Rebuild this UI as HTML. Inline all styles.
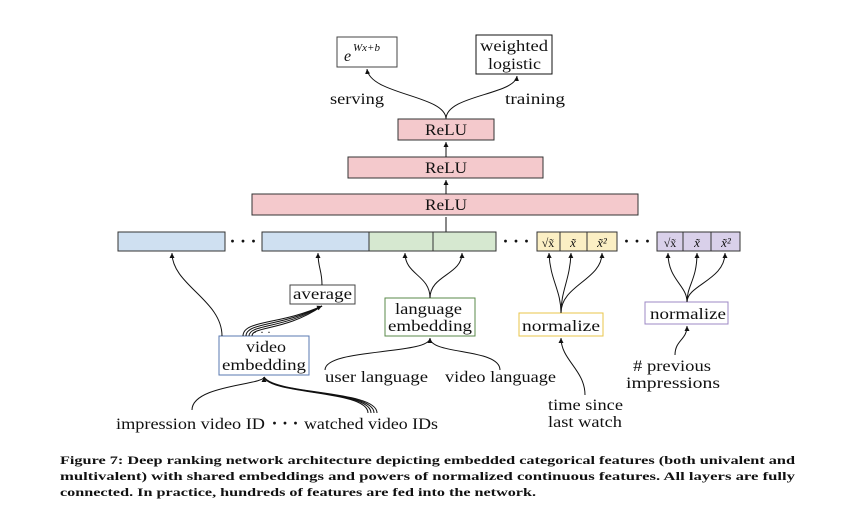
<!DOCTYPE html>
<html><head><meta charset="utf-8"><style>
body{margin:0;background:#fff}
svg text{font-family:"Liberation Serif",serif;fill:#111}
.c{font-size:15.5px}
</style></head><body>
<svg width="853" height="516" viewBox="0 0 853 516" xmlns="http://www.w3.org/2000/svg">
<defs><marker id="a" markerWidth="6" markerHeight="6" refX="5" refY="3" orient="auto"><path d="M0,0.5 L5,3 L0,5.5 z" fill="#111"/></marker></defs>
<g fill="none" stroke="#111" stroke-width="1">
<rect x="337" y="37" width="60" height="30" stroke="#444"/>
<rect x="476" y="35" width="76" height="39"/>
<path d="M446,119 C446,95 370,95 367,69" marker-end="url(#a)"/>
<path d="M446,119 C446,95 515,95 517,76" marker-end="url(#a)"/>
<rect x="398" y="119" width="96" height="21" fill="#f4c9cc" stroke="#333"/>
<rect x="348" y="157" width="195" height="21" fill="#f4c9cc" stroke="#333"/>
<rect x="252" y="194" width="386" height="21" fill="#f4c9cc" stroke="#333"/>
<path d="M446,157 L446,142" marker-end="url(#a)"/>
<path d="M446,194 L446,180" marker-end="url(#a)"/>
<path d="M446,232 L446,217"/>
<rect x="118" y="232" width="107" height="19" fill="#cfe0f1" stroke="#333"/>
<rect x="262" y="232" width="107" height="19" fill="#cfe0f1" stroke="#333"/>
<rect x="369" y="232" width="64" height="19" fill="#d6e8d0" stroke="#333"/>
<rect x="433" y="232" width="63" height="19" fill="#d6e8d0" stroke="#333"/>
<rect x="537" y="232" width="23" height="19" fill="#fbefc4" stroke="#333"/>
<rect x="560" y="232" width="27" height="19" fill="#fbefc4" stroke="#333"/>
<rect x="587" y="232" width="30" height="19" fill="#fbefc4" stroke="#333"/>
<rect x="657" y="232" width="26" height="19" fill="#d9d0ea" stroke="#333"/>
<rect x="683" y="232" width="28" height="19" fill="#d9d0ea" stroke="#333"/>
<rect x="711" y="232" width="29" height="19" fill="#d9d0ea" stroke="#333"/>
<rect x="290" y="285" width="65" height="19" stroke="#444"/>
<rect x="385" y="298" width="90" height="38" stroke="#5a8a4a"/>
<rect x="519" y="313" width="84" height="23" stroke="#e8c54a"/>
<rect x="645" y="302" width="83" height="22" stroke="#9c88c4"/>
<rect x="219" y="336" width="90" height="39" stroke="#5a78b0"/>
<path d="M222,336 C222,300 172,285 172,253" marker-end="url(#a)"/>
<path d="M322,285 C322,270 318,268 318,253" marker-end="url(#a)"/>
<path d="M243,336 C243,320 280,325 322,306" marker-end="url(#a)"/>
<path d="M246,336 C246,322 282,327 322,306"/>
<path d="M249,336 C249,324 284,329 322,306"/>
<path d="M252,336 C252,326 286,331 322,306"/>
<path d="M430,298 C430,275 405,275 405,253" marker-end="url(#a)"/>
<path d="M430,298 C430,275 462,275 462,253" marker-end="url(#a)"/>
<path d="M561,313 C561,290 550,280 549,253" marker-end="url(#a)"/>
<path d="M561,313 C561,290 570,280 571,253" marker-end="url(#a)"/>
<path d="M561,313 C561,285 602,280 602,253" marker-end="url(#a)"/>
<path d="M687,302 C687,285 668,280 668,253" marker-end="url(#a)"/>
<path d="M687,302 C687,285 697,280 697,253" marker-end="url(#a)"/>
<path d="M687,302 C687,285 725,280 725,253" marker-end="url(#a)"/>
<path d="M325,370 C325,348 430,355 430,338" marker-end="url(#a)"/>
<path d="M500,370 C500,348 430,355 430,338"/>
<path d="M585,395 C585,370 561,360 561,338" marker-end="url(#a)"/>
<path d="M675,355 C675,340 687,340 687,326" marker-end="url(#a)"/>
<path d="M192,410 C192,385 264,385 264,377" marker-end="url(#a)"/>
<path d="M368,413 C368,390 270,395 264,377"/>
<path d="M371,413 C371,390 272,395 264,377"/>
<path d="M374,413 C374,390 274,395 264,377"/>
<path d="M377,413 C377,390 276,395 264,377"/>
</g>
<g font-size="13" lengthAdjust="spacingAndGlyphs">
<text x="344" y="61" font-style="italic" font-size="16">e</text>
<text x="353" y="51" font-style="italic" font-size="11">Wx+b</text>
<text x="480" y="51" class="c" textLength="68" lengthAdjust="spacingAndGlyphs">weighted</text>
<text x="488" y="69" class="c" textLength="53" lengthAdjust="spacingAndGlyphs">logistic</text>
<text x="330" y="104" class="c" textLength="54" lengthAdjust="spacingAndGlyphs">serving</text>
<text x="505" y="104" class="c" textLength="60" lengthAdjust="spacingAndGlyphs">training</text>
<text x="425" y="135" class="c" textLength="42" lengthAdjust="spacingAndGlyphs">ReLU</text>
<text x="425" y="173" class="c" textLength="42" lengthAdjust="spacingAndGlyphs">ReLU</text>
<text x="425" y="210" class="c" textLength="42" lengthAdjust="spacingAndGlyphs">ReLU</text>
<text x="243" y="247" text-anchor="middle" font-size="18" font-weight="bold">· · ·</text>
<text x="516" y="247" text-anchor="middle" font-size="18" font-weight="bold">· · ·</text>
<text x="637" y="247" text-anchor="middle" font-size="18" font-weight="bold">· · ·</text>
<text x="548" y="247" text-anchor="middle" font-size="12">√x̃</text>
<text x="573" y="247" text-anchor="middle" font-style="italic">x̃</text>
<text x="602" y="247" text-anchor="middle" font-style="italic">x̃²</text>
<text x="670" y="247" text-anchor="middle" font-size="12">√x̃</text>
<text x="697" y="247" text-anchor="middle" font-style="italic">x̃</text>
<text x="726" y="247" text-anchor="middle" font-style="italic">x̃²</text>
<text x="293" y="299" class="c" textLength="59" lengthAdjust="spacingAndGlyphs">average</text>
<text x="395" y="314" class="c" textLength="67" lengthAdjust="spacingAndGlyphs">language</text>
<text x="388" y="331" class="c" textLength="84" lengthAdjust="spacingAndGlyphs">embedding</text>
<text x="522" y="331" class="c" textLength="78" lengthAdjust="spacingAndGlyphs">normalize</text>
<text x="650" y="319" class="c" textLength="76" lengthAdjust="spacingAndGlyphs">normalize</text>
<text x="246" y="352" class="c" textLength="40" lengthAdjust="spacingAndGlyphs">video</text>
<text x="222" y="370" class="c" textLength="84" lengthAdjust="spacingAndGlyphs">embedding</text>
<text x="262" y="336" text-anchor="middle" font-size="12">· · ·</text>
<text x="325" y="382" class="c" textLength="103" lengthAdjust="spacingAndGlyphs">user language</text>
<text x="445" y="382" class="c" textLength="111" lengthAdjust="spacingAndGlyphs">video language</text>
<text x="633" y="371" class="c" textLength="78" lengthAdjust="spacingAndGlyphs"># previous</text>
<text x="626" y="388" class="c" textLength="94" lengthAdjust="spacingAndGlyphs">impressions</text>
<text x="548" y="410" class="c" textLength="75" lengthAdjust="spacingAndGlyphs">time since</text>
<text x="548" y="427" class="c" textLength="74" lengthAdjust="spacingAndGlyphs">last watch</text>
<text x="116" y="429" class="c" textLength="149" lengthAdjust="spacingAndGlyphs">impression video ID</text>
<text x="285" y="429" text-anchor="middle" font-size="18" font-weight="bold">· · ·</text>
<text x="304" y="429" class="c" textLength="134" lengthAdjust="spacingAndGlyphs">watched video IDs</text>
</g>
<g font-size="12" font-weight="bold">
<text x="60" y="464" textLength="735" lengthAdjust="spacingAndGlyphs">Figure 7: Deep ranking network architecture depicting embedded categorical features (both univalent and</text>
<text x="60" y="480" textLength="735" lengthAdjust="spacingAndGlyphs">multivalent) with shared embeddings and powers of normalized continuous features.  All layers are fully</text>
<text x="60" y="496" textLength="476" lengthAdjust="spacingAndGlyphs">connected. In practice, hundreds of features are fed into the network.</text>
</g>
</svg>
</body></html>
